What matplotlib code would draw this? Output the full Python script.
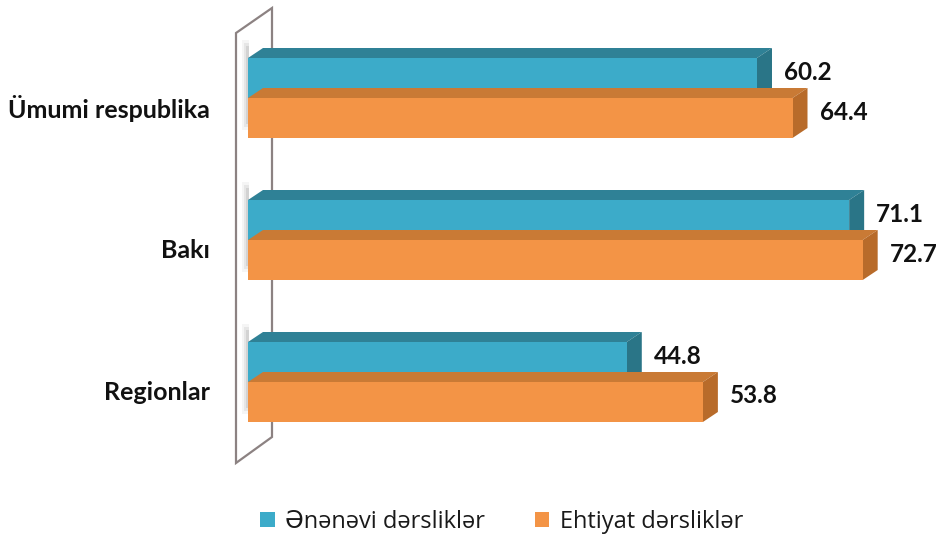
import matplotlib
matplotlib.use('Agg')

import matplotlib.pyplot as plt
from matplotlib.patches import Polygon, Rectangle
import numpy as np

plt.rcParams['font.family'] = ['Lato', 'DejaVu Sans']

categories = ['Ümumi respublika', 'Bakı', 'Regionlar']
series_names = ['Ənənəvi dərsliklər', 'Ehtiyat dərsliklər']
traditional = [60.2, 71.1, 44.8]
reserve = [64.4, 72.7, 53.8]

front_colors = ['#3CABC9', '#F39446']
top_colors = ['#2F8196', '#C97A35']
side_colors = ['#2A7587', '#B86B2A']

# pixel -> data scale used for the pseudo-3D look
PX_X = 8.455   # pixels per value unit
PX_Y = 142.0   # pixels per group
bar_h = 40 / PX_Y
dx = 15 / PX_X
dy = -10 / PX_Y

fig = plt.figure(figsize=(9.36, 5.37), dpi=100)
ax = fig.add_axes([0, 0, 1, 1])
ax.set_xlim(-248 / PX_X, (936 - 248) / PX_X)
ax.set_ylim((537 - 98) / PX_Y, -98 / PX_Y)
ax.axis('off')

# back wall (thin slanted panel)
wx0, wx1 = -12 / PX_X, 24 / PX_X
wall = Polygon([(wx0, -65 / PX_Y), (wx1, -90 / PX_Y), (wx1, 339 / PX_Y), (wx0, 365 / PX_Y)],
               closed=True, facecolor='white', edgecolor='#8C8282', lw=1.6, zorder=1)
ax.add_patch(wall)

y_groups = np.arange(len(categories))
for i in y_groups:
    # soft shadow of each bar pair on the wall
    g_top = i - bar_h + dy
    for k, a in enumerate([0.08, 0.12, 0.18]):
        ax.add_patch(Rectangle(((-6 + 2 * k) / PX_X, g_top - (8 - 3 * k) / PX_Y),
                               (7 - 2 * k) / PX_X, 2 * bar_h + (10 - 6 * k) / PX_Y,
                               facecolor='#808080', alpha=a, lw=0, zorder=2))

for s, vals in enumerate([traditional, reserve]):
    for i, v in enumerate(vals):
        y_top = y_groups[i] - bar_h + s * bar_h
        y_bot = y_top + bar_h
        top = Polygon([(0, y_top), (v, y_top), (v + dx, y_top + dy), (dx, y_top + dy)],
                      closed=True, facecolor=top_colors[s], lw=0, zorder=3 + s)
        side = Polygon([(v, y_top), (v + dx, y_top + dy), (v + dx, y_bot + dy), (v, y_bot)],
                       closed=True, facecolor=side_colors[s], lw=0, zorder=3 + s)
        ax.add_patch(top)
        ax.add_patch(side)
        ax.barh(y_top + bar_h / 2, v, height=bar_h, left=0, color=front_colors[s],
                lw=0, zorder=3 + s)
        ax.text(v + dx + 12 / PX_X, y_top + bar_h / 2 + dy / 2 - 1 / PX_Y, f'{v:.1f}',
                ha='left', va='center', fontsize=17.5, fontweight='bold',
                color='#111111', zorder=10)

for i, cat in enumerate(categories):
    ax.text(-38 / PX_X, y_groups[i] + 10 / PX_Y, cat, ha='right', va='center',
            fontsize=18, fontweight='bold', color='#111111')

handles = [Rectangle((0, 0), 1, 1, facecolor=c, lw=0) for c in front_colors]
leg = ax.legend(handles, series_names, loc='center', bbox_to_anchor=(0.536, 0.028),
                ncol=2, frameon=False, handlelength=0.6, handleheight=0.6,
                handletextpad=0.45, columnspacing=2.1,
                prop={'family': ['Open Sans', 'DejaVu Sans'], 'size': 17})
for t in leg.get_texts():
    t.set_color('#1a1a1a')

plt.savefig('out.png', dpi=100)
plt.close()
